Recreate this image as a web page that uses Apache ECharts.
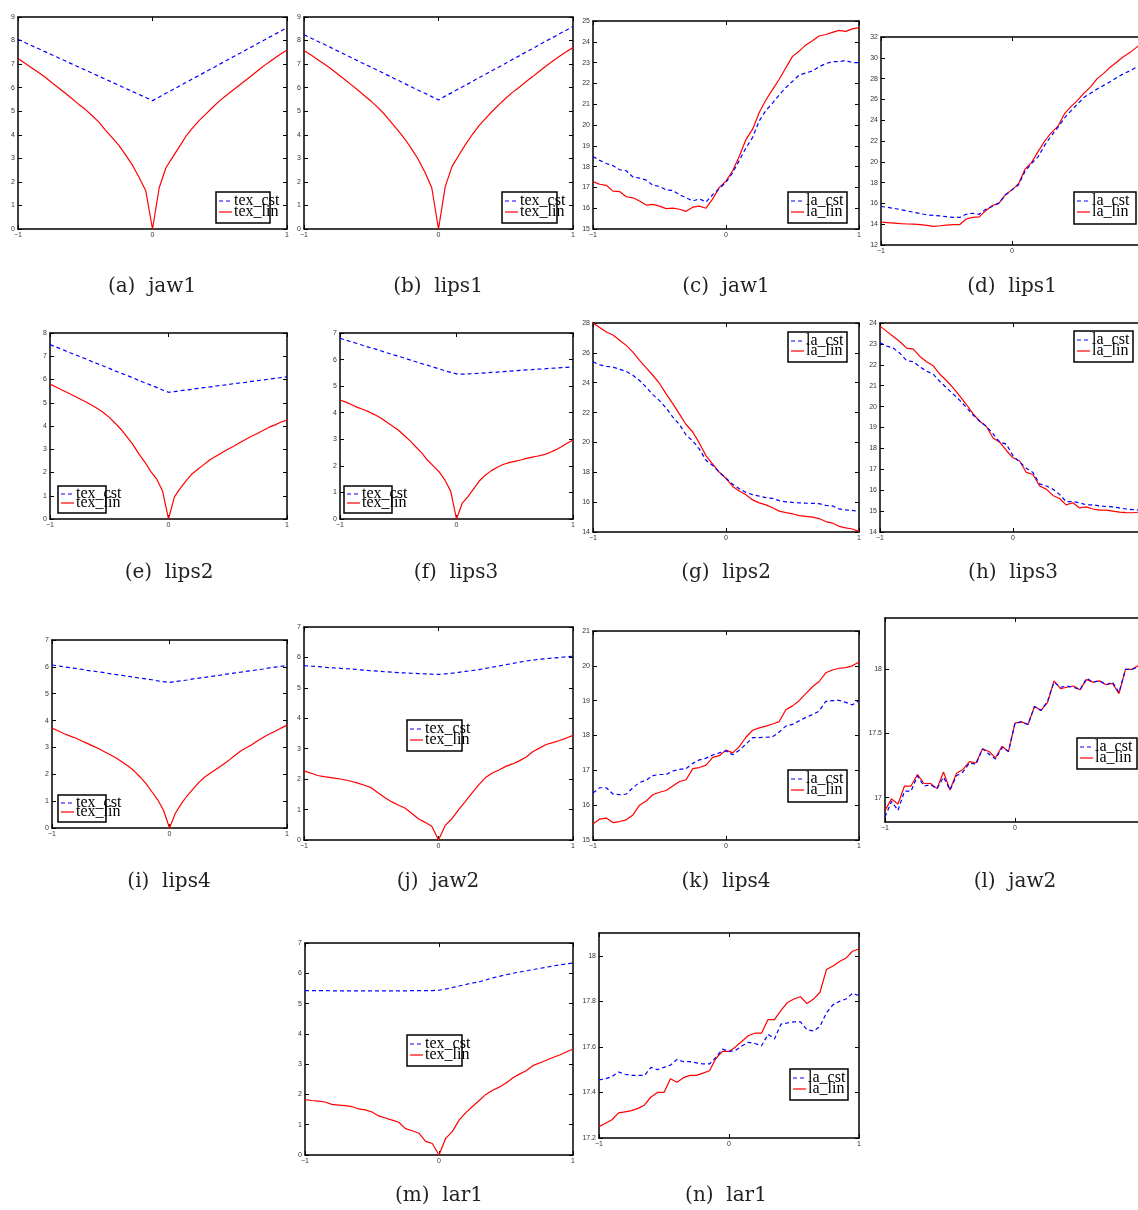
<!DOCTYPE html>
<html>
<head>
<meta charset="utf-8">
<script src="https://cdn.jsdelivr.net/npm/echarts@6/dist/echarts.min.js"></script>
<style>
  html, body { margin: 0; padding: 0; background: #fff; overflow: hidden; }
  #chart { width: 1138px; height: 1210px; }
</style>
</head>
<body>
<div id="chart"></div>
<script>
// Sample positions along the normalised parameter axis
const X = [-1,-0.95,-0.9,-0.85,-0.8,-0.75,-0.7,-0.65,-0.6,-0.55,-0.5,-0.45,-0.4,-0.35,-0.3,-0.25,-0.2,-0.15,-0.1,-0.05,0,
           0.05,0.1,0.15,0.2,0.25,0.3,0.35,0.4,0.45,0.5,0.55,0.6,0.65,0.7,0.75,0.8,0.85,0.9,0.95,1];

// Tick values
const xTicks = [-1, 0, 1];
const ticks0to9 = [0,1,2,3,4,5,6,7,8,9];
const ticks0to8 = [0,1,2,3,4,5,6,7,8];
const ticks0to7 = [0,1,2,3,4,5,6,7];
const ticks15to25 = [15,16,17,18,19,20,21,22,23,24,25];
const ticks12to32 = [12,14,16,18,20,22,24,26,28,30,32];
const ticks14to28 = [14,16,18,20,22,24,26,28];
const ticks14to24 = [14,15,16,17,18,19,20,21,22,23,24];
const ticks15to21 = [15,16,17,18,19,20,21];
const ticksJaw2 = [17, 17.5, 18];
const ticksLar1 = [17.2, 17.4, 17.6, 17.8, 18];

// (a) jaw1 texture
const aCst = [8.05,7.92,7.79,7.66,7.53,7.40,7.27,7.14,7.01,6.88,6.75,6.62,6.49,6.36,6.23,6.10,5.97,5.84,5.71,5.58,5.45,
              5.60,5.76,5.91,6.07,6.22,6.38,6.53,6.69,6.84,7.00,7.15,7.31,7.46,7.62,7.77,7.93,8.08,8.24,8.39,8.55];
const aLin = [7.24,7.05,6.85,6.65,6.45,6.22,6.00,5.77,5.54,5.30,5.08,4.82,4.55,4.20,3.88,3.55,3.15,2.72,2.20,1.62,0,
              1.75,2.60,3.05,3.50,3.95,4.30,4.62,4.90,5.18,5.45,5.68,5.90,6.12,6.35,6.57,6.80,7.02,7.22,7.42,7.60];
// (b) lips1 texture
const bCst = [8.25,8.11,7.97,7.84,7.70,7.56,7.42,7.28,7.14,7.00,6.87,6.73,6.59,6.45,6.31,6.17,6.03,5.89,5.76,5.62,5.48,
              5.64,5.79,5.95,6.10,6.26,6.42,6.57,6.73,6.88,7.04,7.20,7.35,7.51,7.66,7.82,7.98,8.13,8.29,8.44,8.60];
const bLin = [7.58,7.40,7.20,7.00,6.80,6.58,6.36,6.13,5.90,5.66,5.42,5.15,4.86,4.52,4.18,3.82,3.40,2.95,2.40,1.75,0,
              1.80,2.65,3.12,3.58,4.00,4.38,4.70,5.00,5.28,5.55,5.80,6.02,6.25,6.47,6.70,6.92,7.13,7.33,7.52,7.70];
// (c) jaw1 appearance
const cCst = [18.48,18.30,18.15,18.05,17.85,17.80,17.50,17.45,17.35,17.10,17.05,16.88,16.85,16.65,16.50,16.35,16.45,16.30,16.65,16.95,17.25,
              17.70,18.30,18.90,19.40,20.20,20.70,21.05,21.45,21.80,22.10,22.40,22.50,22.60,22.80,22.95,23.05,23.05,23.10,23.00,23.00];
const cLin = [17.28,17.15,17.10,16.82,16.80,16.55,16.50,16.35,16.15,16.18,16.10,15.98,16.00,15.95,15.85,16.05,16.10,16.00,16.45,17.00,17.30,
              17.80,18.50,19.30,19.80,20.60,21.20,21.70,22.20,22.75,23.30,23.55,23.85,24.05,24.28,24.35,24.45,24.55,24.50,24.62,24.68];
// (d) lips1 appearance
const dCst = [15.70,15.62,15.52,15.40,15.27,15.15,15.02,14.90,14.85,14.80,14.72,14.65,14.65,14.95,15.05,14.95,15.45,15.70,16.05,16.80,17.30,
              17.80,19.10,19.85,20.50,21.60,22.50,23.30,24.20,24.90,25.55,26.20,26.60,27.00,27.35,27.70,28.10,28.45,28.75,29.10,29.35];
const dLin = [14.20,14.15,14.10,14.05,14.02,14.00,13.95,13.88,13.80,13.85,13.92,13.95,13.95,14.50,14.65,14.70,15.30,15.80,16.00,16.85,17.30,
              17.90,19.30,19.95,21.00,22.00,22.80,23.40,24.60,25.30,25.90,26.60,27.20,28.00,28.50,29.10,29.60,30.10,30.50,31.00,31.50];
// (e) lips2 texture
const eCst = [7.50,7.40,7.30,7.19,7.09,6.99,6.89,6.78,6.68,6.58,6.48,6.37,6.27,6.17,6.07,5.96,5.86,5.76,5.66,5.55,5.45,
              5.48,5.52,5.55,5.58,5.62,5.65,5.68,5.72,5.75,5.78,5.82,5.85,5.88,5.92,5.95,5.98,6.02,6.05,6.08,6.12];
const eLin = [5.80,5.68,5.55,5.43,5.30,5.17,5.04,4.90,4.75,4.58,4.37,4.12,3.85,3.53,3.20,2.80,2.45,2.05,1.72,1.20,0,
              0.95,1.33,1.65,1.95,2.15,2.35,2.55,2.70,2.85,3.00,3.13,3.28,3.42,3.56,3.68,3.82,3.95,4.05,4.17,4.25];
// (f) lips3 texture
const fCst = [6.80,6.73,6.67,6.60,6.53,6.46,6.40,6.33,6.26,6.19,6.13,6.06,5.99,5.92,5.85,5.79,5.72,5.65,5.58,5.52,5.46,
              5.45,5.46,5.47,5.49,5.50,5.52,5.53,5.55,5.56,5.58,5.59,5.61,5.62,5.64,5.65,5.67,5.68,5.70,5.71,5.72];
const fLin = [4.48,4.40,4.30,4.20,4.12,4.03,3.92,3.80,3.65,3.50,3.35,3.15,2.95,2.72,2.50,2.22,2.00,1.78,1.47,1.05,0,
              0.60,0.85,1.15,1.45,1.66,1.82,1.95,2.05,2.12,2.17,2.22,2.28,2.33,2.37,2.42,2.50,2.60,2.72,2.85,2.97];
// (g) lips2 appearance
const gCst = [25.40,25.20,25.10,25.05,24.90,24.75,24.50,24.15,23.70,23.20,22.80,22.30,21.70,21.20,20.50,20.10,19.55,18.80,18.45,18.00,17.60,
              17.20,16.90,16.65,16.50,16.40,16.30,16.25,16.10,16.02,15.98,15.95,15.93,15.92,15.90,15.78,15.75,15.55,15.48,15.45,15.37];
const gLin = [28.00,27.70,27.40,27.20,26.85,26.50,26.05,25.50,25.00,24.50,23.95,23.25,22.60,21.90,21.20,20.70,19.95,19.10,18.55,18.00,17.60,
              17.05,16.75,16.50,16.15,15.95,15.82,15.62,15.40,15.30,15.22,15.10,15.05,15.00,14.90,14.70,14.60,14.38,14.28,14.20,14.04];
// (h) lips3 appearance
const hCst = [23.05,22.90,22.80,22.55,22.20,22.15,21.90,21.70,21.55,21.20,20.90,20.60,20.30,19.95,19.60,19.30,19.05,18.70,18.30,18.20,17.65,
              17.35,17.05,16.85,16.30,16.20,16.05,15.80,15.45,15.45,15.40,15.30,15.30,15.25,15.22,15.20,15.15,15.10,15.07,15.05,15.05];
const hLin = [23.85,23.60,23.35,23.10,22.80,22.75,22.40,22.15,21.95,21.55,21.25,20.90,20.50,20.10,19.65,19.30,19.05,18.50,18.30,17.90,17.55,
              17.40,16.85,16.75,16.20,16.05,15.75,15.60,15.30,15.40,15.15,15.20,15.10,15.05,15.05,15.00,14.95,14.93,14.92,14.95,15.00];
// (i) lips4 texture
const iCst = [6.07,6.04,6.00,5.97,5.94,5.91,5.87,5.84,5.81,5.78,5.74,5.71,5.68,5.65,5.61,5.58,5.55,5.52,5.48,5.45,5.42,
              5.45,5.48,5.51,5.55,5.58,5.61,5.64,5.67,5.70,5.74,5.77,5.80,5.83,5.86,5.89,5.92,5.96,5.99,6.02,6.05];
const iLin = [3.72,3.62,3.52,3.43,3.35,3.25,3.15,3.05,2.95,2.83,2.72,2.60,2.45,2.30,2.12,1.90,1.65,1.35,1.05,0.65,0,
              0.55,0.90,1.20,1.45,1.70,1.90,2.05,2.20,2.35,2.50,2.68,2.85,2.98,3.10,3.25,3.38,3.50,3.60,3.72,3.83];
// (j) jaw2 texture
const jCst = [5.73,5.71,5.70,5.68,5.66,5.65,5.63,5.62,5.60,5.58,5.56,5.55,5.53,5.52,5.50,5.49,5.48,5.47,5.46,5.45,5.44,
              5.46,5.48,5.51,5.54,5.57,5.60,5.64,5.68,5.72,5.76,5.80,5.84,5.88,5.91,5.94,5.96,5.98,6.00,6.02,6.04];
const jLin = [2.27,2.20,2.12,2.08,2.05,2.02,1.98,1.93,1.87,1.80,1.72,1.55,1.40,1.26,1.15,1.05,0.88,0.70,0.58,0.45,0,
              0.48,0.70,1.00,1.27,1.55,1.82,2.05,2.20,2.30,2.42,2.50,2.60,2.72,2.90,3.02,3.14,3.20,3.27,3.35,3.44];
// (k) lips4 appearance
const kCst = [16.35,16.50,16.50,16.32,16.30,16.32,16.50,16.65,16.72,16.85,16.88,16.88,16.98,17.03,17.05,17.20,17.30,17.35,17.44,17.50,17.56,
              17.45,17.58,17.75,17.94,17.94,17.95,17.96,18.10,18.27,18.32,18.42,18.52,18.60,18.70,18.98,19.00,19.01,18.95,18.88,19.00];
const kLin = [15.46,15.60,15.63,15.50,15.53,15.58,15.72,16.00,16.12,16.30,16.37,16.42,16.55,16.68,16.73,17.05,17.08,17.15,17.37,17.42,17.58,
              17.50,17.68,17.95,18.15,18.22,18.27,18.33,18.40,18.74,18.85,19.00,19.20,19.40,19.55,19.80,19.88,19.93,19.95,20.00,20.11];
// (l) jaw2 appearance
const lCst = [16.85,16.97,16.90,17.05,17.05,17.17,17.09,17.10,17.07,17.16,17.06,17.17,17.20,17.27,17.26,17.38,17.34,17.30,17.39,17.36,17.58,
              17.59,17.57,17.71,17.68,17.75,17.90,17.86,17.87,17.86,17.84,17.93,17.90,17.91,17.88,17.90,17.82,18.00,18.00,18.02,18.10];
const lLin = [16.90,16.99,16.95,17.09,17.09,17.18,17.11,17.11,17.07,17.20,17.06,17.19,17.22,17.28,17.27,17.38,17.36,17.31,17.40,17.36,17.58,
              17.59,17.57,17.71,17.68,17.74,17.91,17.85,17.86,17.87,17.84,17.92,17.90,17.91,17.88,17.89,17.81,18.00,18.00,18.03,18.10];
// (m) lar1 texture
const mCst = [5.43,5.43,5.43,5.43,5.42,5.42,5.42,5.42,5.42,5.42,5.42,5.42,5.42,5.42,5.42,5.42,5.43,5.43,5.43,5.43,5.44,
              5.48,5.53,5.58,5.63,5.68,5.72,5.78,5.85,5.90,5.95,6.00,6.04,6.08,6.12,6.16,6.20,6.24,6.28,6.31,6.34];
const mLin = [1.83,1.80,1.78,1.75,1.67,1.65,1.63,1.60,1.52,1.49,1.42,1.29,1.22,1.15,1.08,0.87,0.80,0.72,0.45,0.38,0,
              0.55,0.78,1.15,1.40,1.60,1.80,2.00,2.14,2.24,2.38,2.54,2.67,2.78,2.95,3.04,3.13,3.22,3.30,3.40,3.50];
// (n) lar1 appearance
const nCst = [17.455,17.46,17.47,17.49,17.48,17.475,17.475,17.475,17.51,17.50,17.51,17.52,17.545,17.535,17.535,17.53,17.525,17.525,17.555,17.59,17.58,
              17.585,17.605,17.62,17.615,17.605,17.655,17.635,17.70,17.705,17.71,17.71,17.675,17.67,17.69,17.75,17.785,17.80,17.81,17.835,17.825];
const nLin = [17.25,17.265,17.28,17.31,17.315,17.32,17.33,17.345,17.38,17.40,17.40,17.46,17.445,17.465,17.475,17.475,17.485,17.495,17.55,17.58,17.58,
              17.60,17.625,17.65,17.66,17.66,17.72,17.72,17.76,17.795,17.81,17.82,17.79,17.81,17.84,17.94,17.955,17.975,17.99,18.02,18.03];

// Panel content: caption, series names, values, value-axis range and ticks
const panels = [
  { key: 'a', caption: '(a)  jaw1',  names: ['tex_cst','tex_lin'], cst: aCst, lin: aLin, yMin: 0,  yMax: 9,  yTicks: ticks0to9 },
  { key: 'b', caption: '(b)  lips1', names: ['tex_cst','tex_lin'], cst: bCst, lin: bLin, yMin: 0,  yMax: 9,  yTicks: ticks0to9 },
  { key: 'c', caption: '(c)  jaw1',  names: ['la_cst','la_lin'],   cst: cCst, lin: cLin, yMin: 15, yMax: 25, yTicks: ticks15to25 },
  { key: 'd', caption: '(d)  lips1', names: ['la_cst','la_lin'],   cst: dCst, lin: dLin, yMin: 12, yMax: 32, yTicks: ticks12to32 },
  { key: 'e', caption: '(e)  lips2', names: ['tex_cst','tex_lin'], cst: eCst, lin: eLin, yMin: 0,  yMax: 8,  yTicks: ticks0to8 },
  { key: 'f', caption: '(f)  lips3', names: ['tex_cst','tex_lin'], cst: fCst, lin: fLin, yMin: 0,  yMax: 7,  yTicks: ticks0to7 },
  { key: 'g', caption: '(g)  lips2', names: ['la_cst','la_lin'],   cst: gCst, lin: gLin, yMin: 14, yMax: 28, yTicks: ticks14to28 },
  { key: 'h', caption: '(h)  lips3', names: ['la_cst','la_lin'],   cst: hCst, lin: hLin, yMin: 14, yMax: 24, yTicks: ticks14to24 },
  { key: 'i', caption: '(i)  lips4', names: ['tex_cst','tex_lin'], cst: iCst, lin: iLin, yMin: 0,  yMax: 7,  yTicks: ticks0to7 },
  { key: 'j', caption: '(j)  jaw2',  names: ['tex_cst','tex_lin'], cst: jCst, lin: jLin, yMin: 0,  yMax: 7,  yTicks: ticks0to7 },
  { key: 'k', caption: '(k)  lips4', names: ['la_cst','la_lin'],   cst: kCst, lin: kLin, yMin: 15, yMax: 21, yTicks: ticks15to21 },
  { key: 'l', caption: '(l)  jaw2',  names: ['la_cst','la_lin'],   cst: lCst, lin: lLin, yMin: 16.81, yMax: 18.4, yTicks: ticksJaw2 },
  { key: 'm', caption: '(m)  lar1',  names: ['tex_cst','tex_lin'], cst: mCst, lin: mLin, yMin: 0,  yMax: 7,  yTicks: ticks0to7 },
  { key: 'n', caption: '(n)  lar1',  names: ['la_cst','la_lin'],   cst: nCst, lin: nLin, yMin: 17.2, yMax: 18.1, yTicks: ticksLar1 }
];

// Placement of each plot box [left, top, width, height], its legend box, and caption row
const layout = {
  a: { box: [18, 17, 269, 212],  legend: [216, 192, 54, 31],  capX: 152,  capY: 287 },
  b: { box: [304, 17, 269, 212], legend: [502, 192, 55, 31],  capX: 438,  capY: 287 },
  c: { box: [593, 21, 266, 208], legend: [788, 192, 59, 31],  capX: 726,  capY: 287 },
  d: { box: [881, 37, 262, 208], legend: [1074, 192, 62, 32], capX: 1012, capY: 287 },
  e: { box: [50, 333, 237, 186], legend: [58, 486, 48, 27],   capX: 169,  capY: 573 },
  f: { box: [340, 333, 233, 186], legend: [344, 486, 48, 27], capX: 456,  capY: 573 },
  g: { box: [593, 323, 266, 209], legend: [788, 332, 59, 30], capX: 726,  capY: 573 },
  h: { box: [880, 323, 266, 209], legend: [1074, 331, 59, 31], capX: 1013, capY: 573 },
  i: { box: [52, 640, 235, 188], legend: [58, 795, 48, 27],   capX: 169,  capY: 882 },
  j: { box: [304, 627, 269, 213], legend: [407, 720, 55, 31], capX: 438,  capY: 882 },
  k: { box: [593, 631, 266, 209], legend: [788, 770, 59, 32], capX: 726,  capY: 882 },
  l: { box: [885, 618, 260, 204], legend: [1077, 738, 60, 31], capX: 1015, capY: 882 },
  m: { box: [305, 943, 268, 212], legend: [407, 1035, 55, 31], capX: 439, capY: 1196 },
  n: { box: [599, 933, 260, 205], legend: [790, 1069, 58, 31], capX: 726, capY: 1196 }
};

const BLUE = '#0000ff';
const RED = '#ff0000';
const FRAME = { color: '#000', width: 1.5 };
const labelFont = { fontFamily: '"Liberation Sans", Arial, sans-serif', fontSize: 7, color: '#333' };
const fmtNum = v => (v < 0 ? '\u2212' + Math.abs(v) : String(v));

const grids = [], xAxes = [], yAxes = [], series = [], graphics = [];

function axisCommon(ticks, showLabel, gridIndex, position) {
  return {
    type: 'value', gridIndex, position,
    axisLine: { show: true, onZero: false, lineStyle: FRAME },
    axisTick: { show: true, inside: true, length: 4, customValues: ticks, lineStyle: { color: '#000', width: 1 } },
    axisLabel: showLabel
      ? Object.assign({ show: true, customValues: ticks, margin: 3, formatter: fmtNum, hideOverlap: false }, labelFont)
      : { show: false },
    splitLine: { show: false }
  };
}

panels.forEach((p, k) => {
  const L = layout[p.key];
  const [gl, gt, gw, gh] = L.box;
  // Boxes may run past the page edge on the right-hand column, as in the printed figure
  grids.push({ left: gl, top: gt, width: gw, height: gh, containLabel: false, outerBoundsMode: 'none' });

  xAxes.push(Object.assign(axisCommon(xTicks, true, k, 'bottom'), { min: -1, max: 1 }));
  xAxes.push(Object.assign(axisCommon(xTicks, false, k, 'top'), { min: -1, max: 1 }));
  yAxes.push(Object.assign(axisCommon(p.yTicks, true, k, 'left'), { min: p.yMin, max: p.yMax }));
  yAxes.push(Object.assign(axisCommon(p.yTicks, false, k, 'right'), { min: p.yMin, max: p.yMax }));

  const xi = 2 * k, yi = 2 * k;
  series.push({
    type: 'line', name: p.names[0], xAxisIndex: xi, yAxisIndex: yi,
    data: X.map((x, i) => [x, p.cst[i]]),
    showSymbol: false, symbol: 'none', smooth: false, silent: true,
    lineStyle: { color: BLUE, width: 1.2, type: [4, 3] }, z: 3
  });
  series.push({
    type: 'line', name: p.names[1], xAxisIndex: xi, yAxisIndex: yi,
    data: X.map((x, i) => [x, p.lin[i]]),
    showSymbol: false, symbol: 'none', smooth: false, silent: true,
    lineStyle: { color: RED, width: 1.2 }, z: 2
  });

  // Caption under the plot
  graphics.push({
    type: 'text', x: L.capX, y: L.capY,
    style: { text: p.caption, font: '20px "DejaVu Serif", serif', fill: '#222', align: 'center', verticalAlign: 'middle' }
  });

  // Boxed legend
  const [lx, ly, lw, lh] = L.legend;
  const row1 = Math.round(lh * 0.29), row2 = Math.round(lh * 0.63);
  graphics.push({
    type: 'group', x: lx, y: ly, z: 100,
    children: [
      { type: 'rect', shape: { x: 0, y: 0, width: lw, height: lh }, style: { fill: '#fff', stroke: '#000', lineWidth: 1.5 } },
      { type: 'line', shape: { x1: 3, y1: row1, x2: 16, y2: row1 }, style: { stroke: BLUE, lineWidth: 1.2, lineDash: [4, 3] } },
      { type: 'line', shape: { x1: 3, y1: row2, x2: 16, y2: row2 }, style: { stroke: RED, lineWidth: 1.2 } },
      { type: 'text', x: 18, y: row1, style: { text: p.names[0], font: '16px "Liberation Serif", serif', fill: '#000', verticalAlign: 'middle' } },
      { type: 'text', x: 18, y: row2, style: { text: p.names[1], font: '16px "Liberation Serif", serif', fill: '#000', verticalAlign: 'middle' } }
    ]
  });
});

const chart = echarts.init(document.getElementById('chart'), null, { renderer: 'canvas' });
chart.setOption({
  animation: false,
  backgroundColor: '#fff',
  grid: grids,
  xAxis: xAxes,
  yAxis: yAxes,
  series: series,
  graphic: graphics
});
</script>
</body>
</html>
